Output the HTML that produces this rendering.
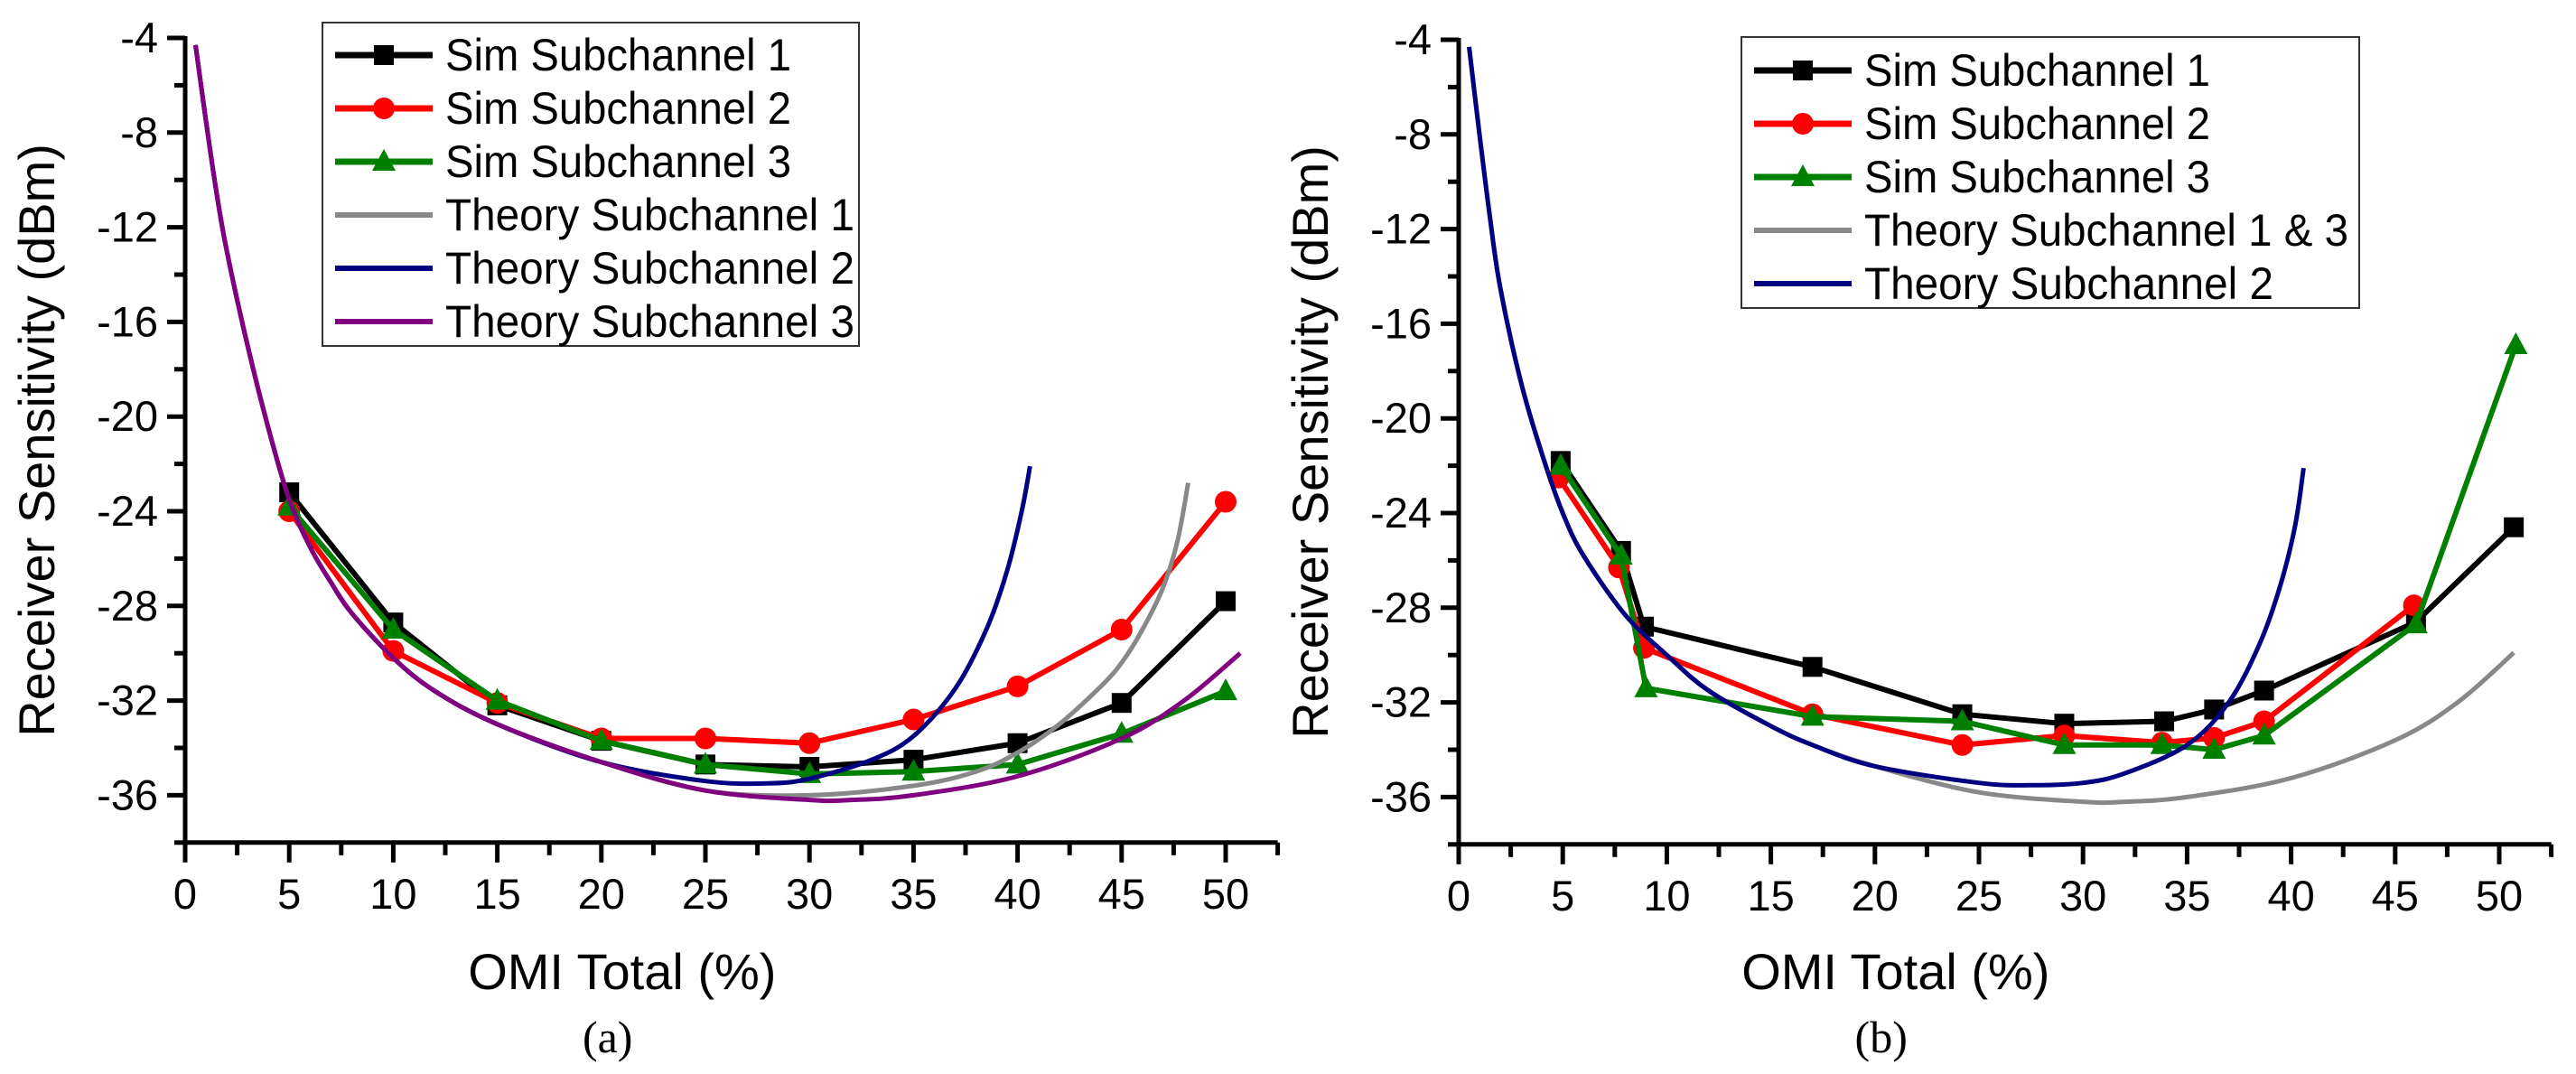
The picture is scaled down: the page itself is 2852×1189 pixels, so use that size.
<!DOCTYPE html>
<html><head><meta charset="utf-8"><style>
html,body{margin:0;padding:0;background:#fff;}
svg{display:block;font-family:"Liberation Sans",Arial,sans-serif;}
</style></head><body>
<svg id="fig" width="2852" height="1189" viewBox="0 0 2852 1189" xmlns="http://www.w3.org/2000/svg">
<g id="panelA"></g>
<g id="panelB"></g>
</svg>
<script>
// ---- data: panel (a)
const xTicks = [0,5,10,15,20,25,30,35,40,45,50];
const yTicks = [-4,-8,-12,-16,-20,-24,-28,-32,-36];
const aSim1X = [5,10,15,20,25,30,35,40,45,50];
const aSim1Y = [-23.2,-28.7,-32.2,-33.7,-34.7,-34.8,-34.5,-33.8,-32.1,-27.8];
const aSim2X = [5,10,15,20,25,30,35,40,45,50];
const aSim2Y = [-24,-29.9,-32.1,-33.6,-33.6,-33.8,-32.8,-31.4,-29,-23.6];
const aSim3X = [5,10,15,20,25,30,35,40,45,50];
const aSim3Y = [-23.8,-29,-32,-33.7,-34.7,-35.1,-35,-34.7,-33.4,-31.6];
const aTh1X = [0.5,1,1.5,2,3,4,5,6,7,8,10,12,15,20,25,30,35,38,40,42,44,45,46,47,47.7,48.2];
const aTh1Y = [-4.3,-7.5,-10.5,-13,-17,-20.5,-23.5,-25.5,-27,-28.3,-30.2,-31.6,-33,-34.6,-35.8,-36,-35.6,-35,-34.2,-33,-31.4,-30.4,-29,-27.2,-25.2,-22.8];
const aTh2X = [0.5,1,1.5,2,3,4,5,6,7,8,10,12,15,20,25,28,30,33,35,37,38.5,39.5,40.2,40.6];
const aTh2Y = [-4.3,-7.5,-10.5,-13,-17,-20.5,-23.5,-25.5,-27,-28.3,-30.2,-31.6,-33,-34.6,-35.4,-35.5,-35.3,-34.5,-33.5,-31.5,-29,-26.5,-24,-22.1];
const aTh3X = [0.5,1,1.5,2,3,4,5,6,7,8,10,12,15,20,25,30,32,35,40,45,48,50.7];
const aTh3Y = [-4.3,-7.5,-10.5,-13,-17,-20.5,-23.5,-25.5,-27,-28.3,-30.2,-31.6,-33,-34.6,-35.8,-36.2,-36.2,-36,-35.2,-33.6,-32,-30];
// ---- data: panel (b)
const bSim1X = [4.9,7.8,8.9,17,24.2,29.1,33.9,36.3,38.7,46,50.7];
const bSim1Y = [-21.8,-25.6,-28.8,-30.5,-32.5,-32.9,-32.8,-32.3,-31.5,-28.6,-24.6];
const bSim2X = [4.8,7.7,8.9,17,24.2,29.1,33.8,36.3,38.7,45.9];
const bSim2Y = [-22.5,-26.3,-29.7,-32.5,-33.8,-33.4,-33.7,-33.5,-32.8,-27.9];
const bSim3X = [4.9,7.8,9,17,24.2,29.1,33.8,36.3,38.7,46,50.8];
const bSim3Y = [-22,-25.8,-31.4,-32.6,-32.8,-33.8,-33.8,-34,-33.4,-28.7,-16.9];
const bTh13X = [0.5,1,1.5,2,3,4,5,6,8,10,12,15,17,20,25,30,32,35,40,45,48,50.7];
const bTh13Y = [-4.3,-8,-11.5,-14.5,-18.5,-21.5,-24,-25.8,-28.3,-30,-31.5,-33,-33.8,-34.7,-35.8,-36.2,-36.2,-36,-35.2,-33.6,-32,-29.9];
const bTh2X = [0.5,1,1.5,2,3,4,5,6,8,10,12,15,17,20,25,27.5,30,32,35,37,38.5,39.5,40.2,40.6];
const bTh2Y = [-4.3,-8,-11.5,-14.5,-18.5,-21.5,-24,-25.8,-28.3,-30,-31.5,-33,-33.8,-34.7,-35.4,-35.5,-35.4,-35,-33.8,-32,-29.5,-27,-24.5,-22.1];

const NS = "http://www.w3.org/2000/svg";
function mk(tag, attrs, parent){
  const e = document.createElementNS(NS, tag);
  for (const k in attrs) e.setAttribute(k, attrs[k]);
  parent.appendChild(e);
  return e;
}
function smoothPath(pts){
  let d = "M" + pts[0][0].toFixed(1) + "," + pts[0][1].toFixed(1);
  for (let i = 0; i < pts.length - 1; i++){
    const p0 = pts[Math.max(0,i-1)], p1 = pts[i], p2 = pts[i+1], p3 = pts[Math.min(pts.length-1,i+2)];
    const c1x = p1[0] + (p2[0]-p0[0])/6, c1y = p1[1] + (p2[1]-p0[1])/6;
    const c2x = p2[0] - (p3[0]-p1[0])/6, c2y = p2[1] - (p3[1]-p1[1])/6;
    d += " C" + c1x.toFixed(1)+","+c1y.toFixed(1)+" "+c2x.toFixed(1)+","+c2y.toFixed(1)+" "+p2[0].toFixed(1)+","+p2[1].toFixed(1);
  }
  return d;
}
function marker(g, kind, cx, cy, color){
  let m;
  if (kind === "square") m = mk("rect", {x:cx-11, y:cy-11, width:22, height:22, fill:color}, g);
  else if (kind === "circle") m = mk("circle", {cx:cx, cy:cy, r:12, fill:color}, g);
  else m = mk("polygon", {points:(cx)+","+(cy-14)+" "+(cx-13)+","+(cy+10)+" "+(cx+13)+","+(cy+10), fill:color}, g);
  return m;
}

function drawPanel(g, x0, y4, label, sims, theories, legend, lg){
  const ux = 23.04, uy = 26.2;
  const X = v => x0 + v*ux;
  const Y = v => y4 + (-4 - v)*uy;
  const xEnd = X(52.5), yBot = Y(-38), yTop = Y(-4);
  const ax = mk("path", {d:"M"+x0+","+(yTop-2)+" L"+x0+","+yBot+" L"+xEnd+","+yBot, fill:"none", stroke:"#000", "stroke-width":5}, g);
  
  
  for (let v = 0; v <= 52.5; v += 2.5){
    const major = Math.abs(v/5 - Math.round(v/5)) < 1e-6;
    mk("line", {x1:X(v), y1:yBot, x2:X(v), y2:yBot+(major?22:14), stroke:"#000", "stroke-width":5}, g);
  }
  for (let v = -4; v >= -38; v -= 2){
    const major = (v % 4 === 0);
    mk("line", {x1:x0, y1:Y(v), x2:x0-(major?20:12), y2:Y(v), stroke:"#000", "stroke-width":5}, g);
  }
  xTicks.forEach(v => {
    const t = mk("text", {x:X(v), y:yBot+73, "font-size":47, "text-anchor":"middle", fill:"#000"}, g);
    t.textContent = v;
    
    
  });
  yTicks.forEach(v => {
    const t = mk("text", {x:x0-30, y:Y(v)+16, "font-size":47, "text-anchor":"end", fill:"#000"}, g);
    t.textContent = v;
    
    
  });
  const xt = mk("text", {x:X(21), y:1095, "font-size":56, "text-anchor":"middle", fill:"#000"}, g);
  xt.textContent = "OMI Total (%)";
  
  
  const yt = mk("text", {x:0, y:0, "font-size":56, "text-anchor":"middle", fill:"#000", transform:"translate("+(x0-145)+","+((Y(-4)+Y(-38))/2)+") rotate(-90)"}, g);
  yt.textContent = "Receiver Sensitivity (dBm)";
  
  
  const cap = mk("text", {x:X(20.3), y:1165, "font-size":50, "text-anchor":"middle", fill:"#000", "font-family":"Liberation Serif, serif"}, g);
  cap.textContent = label;
  
  
  sims.forEach(s => {
    const pts = s.x.map((v,i) => [X(v), Y(s.y[i])]);
    const pl = mk("polyline", {points:pts.map(p=>p.join(",")).join(" "), fill:"none", stroke:s.color, "stroke-width":6, "stroke-linejoin":"round"}, g);
    
    
    pts.forEach(p => {
      const m = marker(g, s.kind, p[0], p[1], s.color);
      
      
    });
  });
  theories.forEach(s => {
    const pts = s.x.map((v,i) => [X(v), Y(s.y[i])]);
    const p = mk("path", {d:smoothPath(pts), fill:"none", stroke:s.color, "stroke-width":5}, g);
    
    
  });
  const lb = mk("rect", {x:lg.x, y:lg.y, width:lg.w, height:lg.h, fill:"#fff", stroke:"#333", "stroke-width":2}, g);
  
  
  legend.forEach((e, i) => {
    const cy = lg.row0 + i*lg.dy;
    const eg = mk("g", {}, g);
    
    
    mk("line", {x1:lg.x+14, y1:cy, x2:lg.x+122, y2:cy, stroke:e.color, "stroke-width":e.kind?7:6}, eg);
    if (e.kind) marker(eg, e.kind, lg.x+68, cy, e.color);
    const t = mk("text", {x:lg.x+136, y:cy+17, "font-size":50, fill:"#000", textLength:e.len, lengthAdjust:"spacingAndGlyphs"}, eg);
    t.textContent = e.label;
  });
}

drawPanel(document.getElementById("panelA"), 205, 42, "(a)",
  [{name:"sim-subchannel-1", x:aSim1X, y:aSim1Y, color:"#000", kind:"square"},
   {name:"sim-subchannel-2", x:aSim2X, y:aSim2Y, color:"#ff0000", kind:"circle"},
   {name:"sim-subchannel-3", x:aSim3X, y:aSim3Y, color:"#008000", kind:"triangle"}],
  [{name:"theory-subchannel-1", x:aTh1X, y:aTh1Y, color:"#888888"},
   {name:"theory-subchannel-2", x:aTh2X, y:aTh2Y, color:"#000080"},
   {name:"theory-subchannel-3", x:aTh3X, y:aTh3Y, color:"#800080"}],
  [{label:"Sim Subchannel 1", color:"#000", kind:"square", len:383},
   {label:"Sim Subchannel 2", color:"#ff0000", kind:"circle", len:383},
   {label:"Sim Subchannel 3", color:"#008000", kind:"triangle", len:383},
   {label:"Theory Subchannel 1", color:"#888888", len:453},
   {label:"Theory Subchannel 2", color:"#000080", len:453},
   {label:"Theory Subchannel 3", color:"#800080", len:453}],
  {x:357, y:25, w:594, h:358, row0:61, dy:59});

drawPanel(document.getElementById("panelB"), 1615, 44, "(b)",
  [{name:"sim-subchannel-1", x:bSim1X, y:bSim1Y, color:"#000", kind:"square"},
   {name:"sim-subchannel-2", x:bSim2X, y:bSim2Y, color:"#ff0000", kind:"circle"},
   {name:"sim-subchannel-3", x:bSim3X, y:bSim3Y, color:"#008000", kind:"triangle"}],
  [{name:"theory-subchannel-1-3", x:bTh13X, y:bTh13Y, color:"#888888"},
   {name:"theory-subchannel-2", x:bTh2X, y:bTh2Y, color:"#000080"}],
  [{label:"Sim Subchannel 1", color:"#000", kind:"square", len:383},
   {label:"Sim Subchannel 2", color:"#ff0000", kind:"circle", len:383},
   {label:"Sim Subchannel 3", color:"#008000", kind:"triangle", len:383},
   {label:"Theory Subchannel 1 & 3", color:"#888888", len:536},
   {label:"Theory Subchannel 2", color:"#000080", len:453}],
  {x:1928, y:41, w:684, h:300, row0:78, dy:59});
</script>
</body></html>
